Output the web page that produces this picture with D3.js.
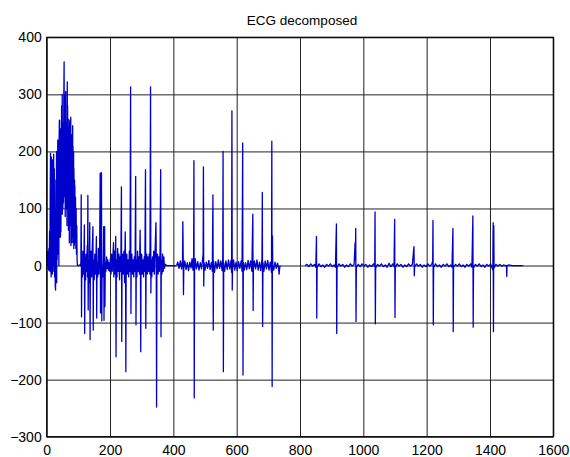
<!DOCTYPE html>
<html>
<head>
<meta charset="utf-8">
<script src="https://cdn.jsdelivr.net/npm/d3@7"></script>
<style>
  body { margin: 0; background: #fff; }
  svg { display: block; }
  .tick text { font-family: "Liberation Sans", Arial, sans-serif; font-size: 14px; fill: #000; }
  .grid line { stroke: #222; stroke-width: 1; }
  .grid path { display: none; }
</style>
</head>
<body>
<div id="chart"></div>
<script>
// tick values and the decomposed ECG as [sample, value]
var xTicks = [0, 200, 400, 600, 800, 1000, 1200, 1400, 1600];
var yTicks = [-300, -200, -100, 0, 100, 200, 300, 400];
var title = 'ECG decomposed';

var segmentA = [
  [0,5],[1,20],[2,0],[3,25],[4,-5],[5,15],[6,-8],[7,30],[8,5],[9,60],[10,-10],[11,120],[12,197],
  [12.5,10],[13,160],[14,-20],[15,190],[16,20],[17,120],[18,-15],[19,185],[20,0],[21,150],[22,195],
  [22.5,-10],[23,60],[24,170],[25,-20],[26,150],[27,-35],[28,-43],[28.5,80],[29,100],[30,-10],
  [31,200],[31.5,-30],[32,180],[33,10],[34,160],[35,220],[35.5,20],[36,200],[37,40],[38,140],
  [38.5,0],[39,210],[40,255],[40.5,50],[41,230],[42,80],[43,180],[43.5,50],[44,240],[45,60],
  [46,255],[46.5,100],[47,280],[48,120],[49,300],[49.5,90],[50,250],[51,100],[52,230],[53,110],
  [54,290],[55,357],[55.5,150],[56,300],[57,120],[58,260],[58.5,86],[59,280],[60,305],[61,100],
  [62,250],[63,140],[63.5,240],[64,70],[65,322],[65.5,100],[66,280],[67,120],[68,257],[68.5,62],
  [69,230],[70,80],[71,200],[71.5,40],[72,240],[73,255],[73.5,70],[74,230],[75,100],[76,260],
  [76.5,35],[77,200],[78,40],[79,180],[79.5,60],[80,230],[81,50],[82,245],[82.5,40],[83,210],
  [84,40],[85,200],[85.5,30],[86,170],[87,35],[88,150],[88.5,50],[89,140],[90,40],[91,120],
  [92,30],[93,100],[94,20],[95,70],[96,10],[97,0],
  [100,0],[104,1],[107,0],
  [108,5],[109,124],[110,-90],[111,10],[113,-20],[114,25],[116,-15],[118,30],[119,71],[120,-119],
  [121,15],[123,-25],[124,20],[126,-10],[128,35],[129,-20],[130,123],[131,-78],[132,10],[134,-30],
  [135,20],[136,75],[137,-130],[138,0],[140,25],[142,-20],[144,30],[146,68],[147,-113],[148,10],
  [150,-25],[152,20],[154,-15],[156,25],[157,51],[158,-92],[159,5],[161,-20],[163,30],[165,-15],
  [167,20],[169,162],[170,-83],[171,10],[173,163],[174,-97],[175,0],[177,-20],[179,15],[180,68],
  [181,-96],[182,10],[183,68],[184,-72],[185,5],[187,-10],[189,15],[191,-5],[193,10],[195,-8],
  [197,5],[199,-10],[201,12],[203,-15],[205,20],[207,-10],[209,15],[211,40],[212,-20],[214,25],
  [216,-15],[218,51],[219,-160],[220,10],[222,-20],[224,30],[226,-10],[228,20],[230,-25],[232,15],
  [234,-10],[236,138],[237,-133],[238,5],[240,20],[242,-15],[244,25],[246,-30],[248,59],[249,10],
  [250,-186],[251,0],[253,20],[255,-15],[257,10],[259,-20],[261,25],[263,-10],[265,313],[266,-84],
  [267,5],[269,20],[271,-15],[273,10],[275,-20],[277,15],[279,-10],[281,156],[282,-104],[283,10],
  [285,-20],[287,25],[289,-10],[291,15],[293,-15],[295,62],[296,10],[297,-151],[298,5],[300,20],
  [302,-15],[304,10],[306,-20],[308,15],[310,-10],[312,168],[313,-110],[314,5],[316,20],[318,-15],
  [320,15],[322,-10],[324,20],[326,-15],[328,313],[329,-48],[330,10],[332,-20],[334,15],[336,-10],
  [338,25],[340,-15],[342,20],[345,75],[346,10],[347,-248],[348,0],[350,20],[352,-15],[354,15],
  [356,-10],[358,25],[360,168],[361,-125],[362,10],[364,-15],[366,20],[368,-10],[370,15],[372,-5],
  [374,2],[380,0],[395,0],[408,0]
];

var segmentB = [
  [410,0],[414,6],[418,-5],[422,8],[426,-6],[429,10],[430,77],[431,20],[432,-51],[433,-5],[436,8],
  [440,-7],[444,5],[448,-9],[452,6],[456,-4],[459,12],[462,-8],[464,15],[465,184],[466,-232],
  [467,-10],[469,12],[473,-6],[477,7],[481,-8],[485,5],[489,-6],[492,9],[494,20],[495,173],
  [496,-36],[497,5],[500,-8],[504,6],[508,-5],[512,9],[516,-7],[520,5],[523,-10],[525,124],
  [526,-113],[527,8],[530,-12],[534,7],[538,-6],[542,10],[546,-5],[550,8],[554,-9],[556,12],
  [557,200],[558,-186],[559,5],[562,-10],[566,8],[570,-7],[574,10],[578,-6],[582,9],[584,-12],
  [585,271],[586,-43],[587,-5],[590,10],[594,-8],[598,6],[602,-9],[606,7],[610,-5],[614,8],
  [617,-10],[619,215],[620,-192],[621,6],[624,-8],[628,5],[632,-7],[636,9],[640,-6],[644,8],
  [648,-10],[650,60],[651,90],[652,-79],[653,-5],[656,8],[660,-6],[664,10],[668,-8],[672,6],
  [676,-9],[680,12],[681,128],[682,-107],[683,5],[686,-10],[690,8],[694,-6],[698,9],[702,-8],
  [706,6],[710,-12],[711,218],[712,-212],[713,52],[714,0],[717,-8],[721,6],[725,-5],[729,4],
  [732,-3],[734,-15],[736,-3],[738,0]
];

var segmentC = [
  [816,0],[822,2],[828,-2],[834,3],[840,-1],[846,2],[850,-3],[852,51],[853,-92],[854,-4],
  [860,3],[866,-2],[872,1],[878,-3],[884,2],[890,-1],[896,3],[902,-2],[908,1],
  [912,-3],[915,73],[916,-119],[917,-4],[923,3],[929,-1],[935,2],[941,-3],[947,1],
  [953,-2],[959,3],[965,-1],[971,2],[974,40],[975,10],[976,65],[977,-98],[978,-3],
  [984,2],[990,-2],[996,3],[1002,-1],[1008,2],[1014,-3],[1020,1],[1026,-2],
  [1032,3],[1036,-2],[1037,94],[1038,-102],[1039,-4],[1045,2],[1051,-1],[1057,3],
  [1063,-2],[1069,1],[1075,-3],[1081,4],[1087,-2],[1093,3],[1097,-2],[1099,81],
  [1100,-91],[1101,-4],[1107,3],[1113,-1],[1119,2],[1125,-3],[1131,1],[1137,-2],
  [1143,3],[1149,-1],[1155,2],[1159,28],[1160,33],[1161,-18],[1162,-2],[1168,3],
  [1174,-1],[1180,2],[1186,-3],[1192,1],[1198,-2],[1204,3],[1210,-1],
  [1216,2],[1219,8],[1220,79],[1221,-104],[1222,-4],[1228,3],[1234,-2],[1240,1],
  [1246,-3],[1252,2],[1258,-1],[1264,3],[1270,-2],[1276,1],[1280,-3],[1283,65],
  [1284,-116],[1285,-3],[1291,2],[1297,-1],[1303,3],[1309,-2],[1315,1],[1321,-3],
  [1327,2],[1333,-1],[1339,3],[1343,-3],[1346,87],[1347,-108],[1348,-4],[1354,2],
  [1360,-1],[1366,3],[1372,-2],[1378,1],[1384,-3],[1390,2],[1396,-1],
  [1402,3],[1406,-3],[1409,-8],[1410,75],[1411,-116],[1412,70],[1413,-4],[1419,2],
  [1425,-1],[1431,2],[1437,-1],[1443,1],[1449,0],[1452,0],[1453,-19],[1454,0],[1460,1],
  [1470,0],[1480,0],[1490,0],[1505,0]
];

var segments = [segmentA, segmentB, segmentC];

var margin = {top: 37.3, right: 16.7, bottom: 20.3, left: 46.7};
var width = 570 - margin.left - margin.right;
var height = 457 - margin.top - margin.bottom;

var svg = d3.select('#chart').append('svg')
  .attr('width', 570)
  .attr('height', 457);

var g = svg.append('g')
  .attr('transform', 'translate(' + margin.left + ',' + margin.top + ')');

var x = d3.scaleLinear().domain([0, 1600]).range([0, width]);
var y = d3.scaleLinear().domain([-300, 400]).range([height, 0]);

// grid lines
g.append('g')
  .attr('class', 'grid')
  .attr('transform', 'translate(0,' + height + ')')
  .call(d3.axisBottom(x).tickValues(xTicks).tickSize(-height).tickFormat(''));

g.append('g')
  .attr('class', 'grid')
  .call(d3.axisLeft(y).tickValues(yTicks).tickSize(-width).tickFormat(''));

// labels
var xAxis = g.append('g')
  .attr('transform', 'translate(0,' + height + ')')
  .call(d3.axisBottom(x).tickValues(xTicks).tickFormat(d3.format('d')).tickSize(0).tickPadding(8));
xAxis.select('.domain').remove();

var yAxis = g.append('g')
  .call(d3.axisLeft(y).tickValues(yTicks).tickFormat(d3.format('d')).tickSize(0).tickPadding(5));
yAxis.select('.domain').remove();

// signal
var line = d3.line()
  .x(function(d) { return x(d[0]); })
  .y(function(d) { return y(d[1]); });

g.append('g')
  .selectAll('path')
  .data(segments)
  .join('path')
  .attr('d', line)
  .attr('fill', 'none')
  .attr('stroke', '#0000cc')
  .attr('stroke-width', 1.3)
  .attr('stroke-linejoin', 'round');

// frame
g.append('rect')
  .attr('width', width)
  .attr('height', height)
  .attr('fill', 'none')
  .attr('stroke', '#000')
  .attr('stroke-width', 1.2);

svg.append('text')
  .attr('x', margin.left + width / 2 + 2)
  .attr('y', 24.5)
  .attr('text-anchor', 'middle')
  .style('font-family', '"Liberation Sans", Arial, sans-serif')
  .style('font-size', '13.5px')
  .text(title);
</script>
</body>
</html>
